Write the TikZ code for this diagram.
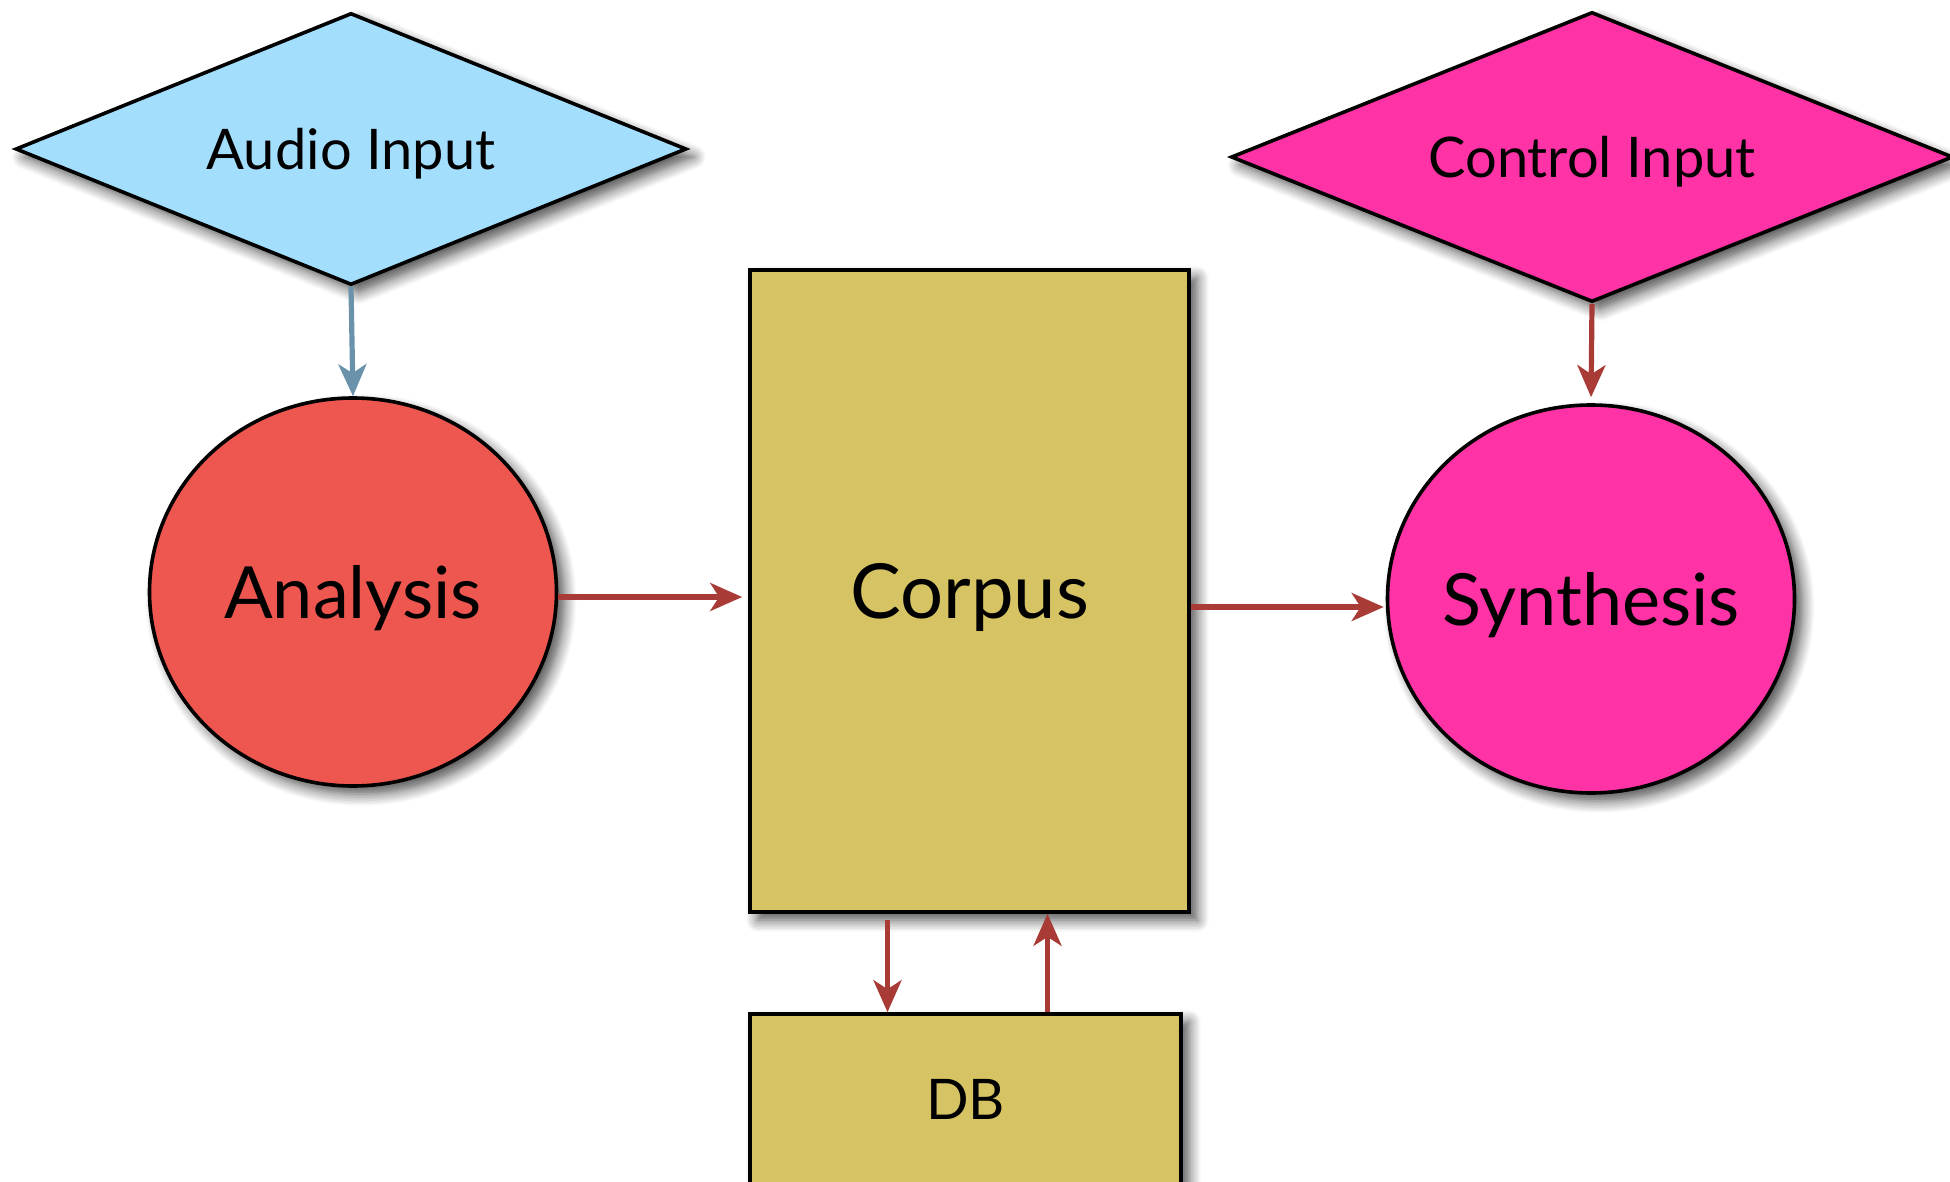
\documentclass[tikz,border=0pt]{standalone}
\usepackage{fontspec}
\setmainfont{Lato}
\usetikzlibrary{shapes.geometric,shadows.blur,arrows.meta}

\definecolor{audioblue}{HTML}{A3DEFC}
\definecolor{ctrlpink}{HTML}{FF33A6}
\definecolor{anared}{HTML}{EE5650}
\definecolor{corpusgold}{HTML}{D6C464}
\definecolor{flowred}{HTML}{A83B36}
\definecolor{flowblue}{HTML}{6A93AB}

\tikzset{
    dropped/.style={blur shadow={shadow xshift=4pt, shadow yshift=-4pt, shadow blur radius=6pt,
        shadow blur steps=8, shadow opacity=70}},
    inputbox/.style={diamond, aspect=2.47, draw=black, line width=1.8pt, inner sep=0pt, dropped,
        text depth=0pt, font=\fontsize{28}{31}\selectfont},
    procbox/.style={ellipse, draw=black, line width=1.8pt, inner sep=0pt, inner xsep=-25pt, dropped,
        text depth=0pt, font=\fontsize{36}{40}\selectfont},
    storebox/.style={rectangle, draw=black, line width=1.8pt, fill=corpusgold, inner sep=0pt, dropped,
        text depth=0pt},
    flow/.style={-{Stealth[length=16pt,width=14pt,inset=4.5pt]}, line width=2.6pt, draw=flowred},
}

\begin{document}
\begin{tikzpicture}[x=0.5pt, y=-0.5pt]
    \useasboundingbox (0,0) rectangle (1950,1182);

    % inputs
    \node[inputbox, fill=audioblue, minimum width=335.5pt, minimum height=136pt]
        (audio) at (351,149) {Audio Input};
    \node[inputbox, fill=ctrlpink, minimum width=361pt, minimum height=145pt]
        (control) at (1592,157) {Control Input};

    % processing
    \node[procbox, fill=anared, minimum width=203.5pt, minimum height=194pt]
        (analysis) at (353,592) {Analysis};
    \node[procbox, fill=ctrlpink, minimum width=203.5pt, minimum height=194pt]
        (synthesis) at (1591,599) {Synthesis};

    % storage
    \node[storebox, minimum width=219.5pt, minimum height=321pt, font=\fontsize{38}{42}\selectfont]
        (corpus) at (969.5,591) {Corpus};
    \node[storebox, minimum width=215.5pt, minimum height=85pt, font=\fontsize{28}{31}\selectfont]
        (db) at (965.5,1099) {DB};

    % flows
    \draw[flow, draw=flowblue] (audio.south) -- (analysis.north);
    \draw[flow, shorten >=3pt] ([yshift=-2.5pt]analysis.east) -- ([yshift=-2.5pt]analysis.east -| corpus.west);
    \draw[flow, shorten >=1pt] ([yshift=-4pt]corpus.east |- synthesis.west) -- ([yshift=-4pt]synthesis.west);
    \draw[flow, shorten >=3pt] (control.south) -- (synthesis.north);
    \draw[flow, shorten <=3pt] ([xshift=-41pt]corpus.south) -- ([xshift=-41pt]corpus.south |- db.north);
    \draw[flow] ([xshift=39pt]corpus.south |- db.north) -- ([xshift=39pt]corpus.south);

\end{tikzpicture}
\end{document}
